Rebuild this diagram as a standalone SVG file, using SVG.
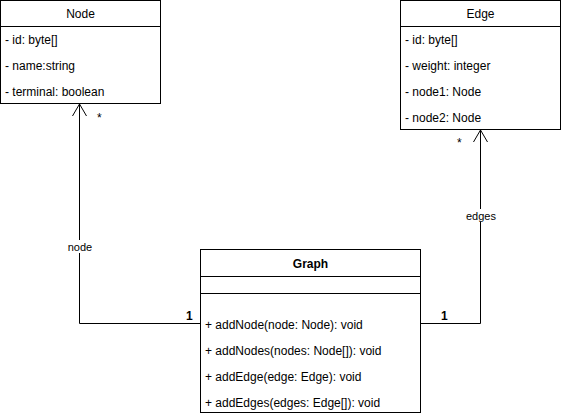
<svg xmlns="http://www.w3.org/2000/svg" width="561" height="418" viewBox="0 0 561 418">
<style>
.box{fill:#fff;stroke:#000;stroke-width:1}
.sep{stroke:#000;stroke-width:1;fill:none}
text{font-family:"Liberation Sans",Arial,Helvetica,sans-serif;font-size:12px;fill:#000}
.title{font-size:12px;text-anchor:middle}
.bold{font-weight:bold}
.conn{fill:none;stroke:#000;stroke-width:1}
.lbl{text-anchor:middle;font-size:11px}
</style>
<rect width="561" height="418" fill="#fff"/>
<g id="connectors">
<path class="conn" d="M200,323.5 H79.5 V104"/>
<path class="conn" d="M72.5,116 L79.5,104 L86.5,116"/>
<path class="conn" d="M420,323.5 H480.5 V130"/>
<path class="conn" d="M473.5,142 L480.5,130 L487.5,142"/>
<rect x="67" y="240" width="26" height="13" fill="#fff"/>
<text class="lbl" x="80" y="251">node</text>
<rect x="465" y="209" width="32" height="13" fill="#fff"/>
<text class="lbl" x="481" y="220">edges</text>
<text x="97" y="122" font-size="11px">*</text>
<text x="457" y="147" font-size="11px">*</text>
<text class="bold" x="186" y="320">1</text>
<text class="bold" x="441" y="320">1</text>
</g>
<g id="node-Node">
<rect class="box" x="0.5" y="0.5" width="160" height="103"/>
<line class="sep" x1="0.5" y1="26.5" x2="160.5" y2="26.5"/>
<text class="title" x="80.5" y="18">Node</text>
<text x="5" y="44">- id: byte[]</text>
<text x="5" y="70">- name:string</text>
<text x="5" y="96">- terminal: boolean</text>
</g>
<g id="node-Edge">
<rect class="box" x="400.5" y="0.5" width="160" height="129"/>
<line class="sep" x1="400.5" y1="26.5" x2="560.5" y2="26.5"/>
<text class="title" x="480.5" y="18">Edge</text>
<text x="405" y="44">- id: byte[]</text>
<text x="405" y="70">- weight: integer</text>
<text x="405" y="96">- node1: Node</text>
<text x="405" y="122">- node2: Node</text>
</g>
<g id="node-Graph">
<rect class="box" x="200.5" y="249.5" width="220" height="163"/>
<line class="sep" x1="200.5" y1="276.5" x2="420.5" y2="276.5"/>
<line class="sep" x1="200.5" y1="293.5" x2="420.5" y2="293.5"/>
<text class="title bold" x="310.5" y="268">Graph</text>
<text x="205" y="329">+ addNode(node: Node): void</text>
<text x="205" y="355">+ addNodes(nodes: Node[]): void</text>
<text x="205" y="381">+ addEdge(edge: Edge): void</text>
<text x="205" y="407">+ addEdges(edges: Edge[]): void</text>
</g>
</svg>
